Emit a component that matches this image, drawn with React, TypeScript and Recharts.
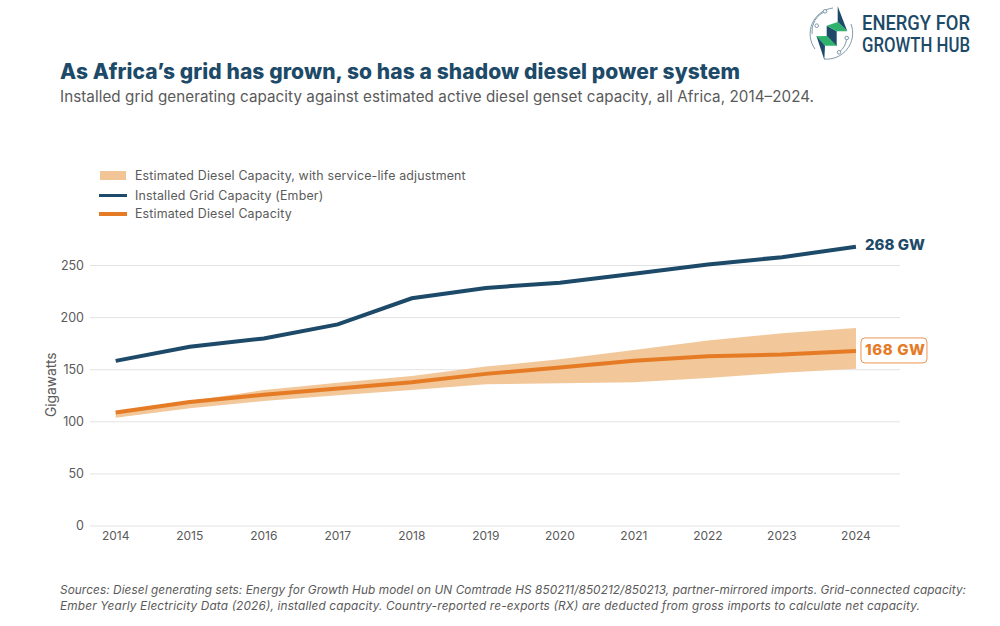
import React from "react";
import { ComposedChart, Area, Line, XAxis, YAxis, CartesianGrid, Legend } from "recharts";

const years = [2014, 2015, 2016, 2017, 2018, 2019, 2020, 2021, 2022, 2023, 2024];
const gridCapacity = [158.5, 172, 180, 193.5, 218.5, 228.5, 233.5, 242, 251, 258, 268];
const dieselCapacity = [109, 119, 126, 132, 138, 146, 152, 158.5, 163, 164.5, 168];
const dieselLow = [104, 113, 120, 125.5, 130.5, 136, 137, 138, 142, 147, 151];
const dieselHigh = [110, 120, 130.5, 137.5, 144, 153, 160, 169, 178, 185, 190];
const yTicks = [0, 50, 100, 150, 200, 250];

const data = years.map((year, i) => ({
  year,
  grid: gridCapacity[i],
  diesel: dieselCapacity[i],
  band: [dieselLow[i], dieselHigh[i]],
}));

const NAVY = "#1C4A68";
const ORANGE = "#E57B25";
const BAND = "#F2C596";
const TEXT = "#5A5A5A";
const FONT = "Inter, 'Noto Sans', sans-serif";

const BAND_NAME = "Estimated Diesel Capacity, with service-life adjustment";
const GRID_NAME = "Installed Grid Capacity (Ember)";
const DIESEL_NAME = "Estimated Diesel Capacity";

const legendRows = [
  { name: BAND_NAME, kind: "band", color: BAND, h: 20 },
  { name: GRID_NAME, kind: "line", color: NAVY, h: 21 },
  { name: DIESEL_NAME, kind: "line", color: ORANGE, h: 15.5 },
];

function ChartLegend() {
  return (
    <div style={{ fontFamily: FONT, fontSize: 12.4, color: TEXT }}>
      {legendRows.map((r) => (
        <div key={r.name} style={{ display: "flex", alignItems: "center", height: r.h, whiteSpace: "nowrap" }}>
          <div style={{ width: 28, marginRight: 8, display: "flex", justifyContent: "center" }}>
            <div style={{ width: r.kind === "band" ? 26 : 28, height: r.kind === "band" ? 9 : 3.5, background: r.color }} />
          </div>
          <span style={{ letterSpacing: 0.17 }}>{r.name}</span>
        </div>
      ))}
    </div>
  );
}

function endLabel(color: string, boxed: boolean) {
  return (props: any) => {
    const { x, y, index, value } = props;
    if (index !== years.length - 1) return null;
    const text = `${Math.round(value)} GW`;
    return (
      <g>
        {boxed && (
          <rect x={x + 5} y={y - 13} width={66} height={25} rx={4} fill="#fff" stroke={color} strokeWidth={1} strokeOpacity={0.8} />
        )}
        <text x={x + 9} y={y + (boxed ? 4.5 : 3.5)} fontFamily={FONT} fontSize={15} fontWeight={800} fill={color} textLength={60} lengthAdjust="spacing">
          {text}
        </text>
      </g>
    );
  };
}

function Logo() {
  const logoFont = "Roboto, sans-serif";
  return (
    <svg width={195} height={62} viewBox="0 0 195 62" style={{ position: "absolute", left: 805, top: 2 }}>
      <g fill="none" stroke="#7F9AAA" strokeWidth={1}>
        <path d="M28 6 A26 26 0 0 0 10 47" />
        <path d="M20 9.3 A22 22 0 0 0 7 32" />
        <path d="M19 57 A26 26 0 0 0 46 22" />
        <path d="M34 50.3 A20 20 0 0 0 41.7 36" />
        <circle cx={20} cy={9.3} r={1.8} fill="#fff" />
        <circle cx={11.7} cy={23.7} r={1.8} fill="#fff" />
        <circle cx={41.7} cy={36} r={1.8} fill="#fff" />
        <circle cx={34} cy={50.3} r={1.8} fill="#fff" />
      </g>
      <polygon points="32.7,4.3 42.3,29.3 32.7,20" fill={NAVY} />
      <polygon points="21.7,23.7 31.7,29.3 31.7,44.3 21.7,34" fill={NAVY} />
      <polygon points="21.7,23.7 32.7,20 42.3,29.3 31.7,29.3" fill="#2FB36C" />
      <polygon points="11,34.3 21.7,34 31.7,43.7 20,43.7" fill="#2FB36C" />
      <polygon points="11.5,34.3 20,43.7 19.3,57.7" fill={NAVY} />
      <text x={57} y={28} fontFamily={logoFont} fontSize={21} fontWeight={500} fill={NAVY} textLength={108} lengthAdjust="spacingAndGlyphs">ENERGY FOR</text>
      <text x={57} y={50} fontFamily={logoFont} fontSize={21} fontWeight={500} fill={NAVY} textLength={108} lengthAdjust="spacingAndGlyphs">GROWTH HUB</text>
    </svg>
  );
}

export default function App() {
  return (
    <div style={{ position: "absolute", left: 0, top: 0, width: 1000, height: 626, background: "#fff", overflow: "hidden" }}>
      <ComposedChart
        width={1000}
        height={626}
        data={data}
        margin={{ top: 213.4, right: 100, bottom: 70, left: 40 }}
      >
        <CartesianGrid vertical={false} horizontalValues={yTicks} stroke="#E3E3E3" strokeWidth={1} />
        <XAxis
          dataKey="year"
          type="number"
          domain={[2013.653, 2024.595]}
          ticks={years}
          allowDataOverflow
          height={30}
          axisLine={false}
          tickLine={false}
          tick={{ fill: TEXT, fontSize: 12, fontFamily: FONT }}
          tickMargin={-1}
        />
        <YAxis
          domain={[0, 300]}
          ticks={yTicks}
          width={50}
          axisLine={false}
          tickLine={false}
          tick={{ fill: TEXT, fontSize: 12.5, fontFamily: FONT }}
          tickMargin={0}
          label={{
            value: "Gigawatts",
            angle: -90,
            position: "insideLeft",
            dx: 6,
            dy: 15,
            style: { fill: TEXT, fontSize: 13.8, fontFamily: FONT, textAnchor: "middle" },
          }}
        />
        <Legend content={<ChartLegend />} layout="vertical" align="center" verticalAlign="middle" wrapperStyle={{ left: 99, top: 165, width: 420 }} />
        <Area dataKey="band" name={BAND_NAME} type="linear" stroke="none" fill={BAND} fillOpacity={0.97} dot={false} activeDot={false} isAnimationActive={false} />
        <Line dataKey="grid" name={GRID_NAME} type="linear" stroke={NAVY} strokeWidth={4} dot={false} activeDot={false} label={endLabel(NAVY, false)} isAnimationActive={false} />
        <Line dataKey="diesel" name={DIESEL_NAME} type="linear" stroke={ORANGE} strokeWidth={4} dot={false} activeDot={false} label={endLabel(ORANGE, true)} isAnimationActive={false} />
      </ComposedChart>
      <svg width={1000} height={626} style={{ position: "absolute", left: 0, top: 0, pointerEvents: "none" }}>
        <text x={60} y={79} fontFamily={FONT} fontSize={21} fontWeight={800} fill={NAVY} textLength={680} lengthAdjust="spacing">
          As Africa’s grid has grown, so has a shadow diesel power system
        </text>
        <text x={60} y={102} fontFamily={FONT} fontSize={15.2} fill={TEXT} textLength={754} lengthAdjust="spacing">
          Installed grid generating capacity against estimated active diesel genset capacity, all Africa, 2014–2024.
        </text>
        <text x={60} y={594} fontFamily={FONT} fontSize={11.8} fontStyle="italic" fill={TEXT} textLength={906} lengthAdjust="spacing">
          Sources: Diesel generating sets: Energy for Growth Hub model on UN Comtrade HS 850211/850212/850213, partner-mirrored imports. Grid-connected capacity:
        </text>
        <text x={60} y={610} fontFamily={FONT} fontSize={11.8} fontStyle="italic" fill={TEXT} textLength={860} lengthAdjust="spacing">
          Ember Yearly Electricity Data (2026), installed capacity. Country-reported re-exports (RX) are deducted from gross imports to calculate net capacity.
        </text>
      </svg>
      <Logo />
    </div>
  );
}
